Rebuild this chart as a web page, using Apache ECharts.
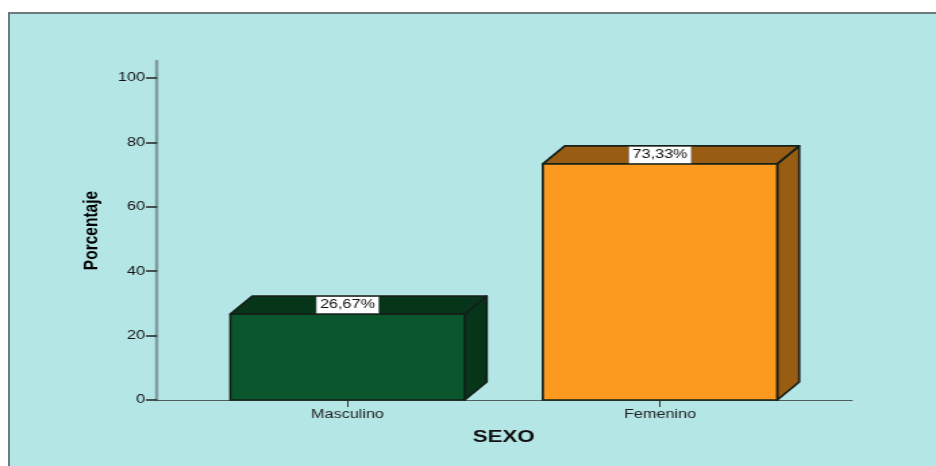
<!DOCTYPE html>
<html>
<head>
<meta charset="utf-8">
<script src="https://cdn.jsdelivr.net/npm/echarts@6/dist/echarts.min.js"></script>
<style>
  html, body { margin: 0; padding: 0; background: #fff; overflow: hidden; }
  /* The chart is laid out narrower and widened as a whole, which gives its wide lettering. */
  #chart { position: absolute; left: 0; top: 0; width: 693px; height: 466px;
           transform-origin: 0 0; transform: scaleX(calc(936 / 693)); }
  #frame { position: absolute; left: 8px; top: 12px; width: 928px; height: 454px;
           box-sizing: border-box; border-left: 2px solid #6e7b7b; border-top: 2px solid #6e7b7b; }
</style>
</head>
<body>
<div id="chart"></div>
<div id="frame"></div>
<script>
const categories = ['Masculino', 'Femenino'];
const percentages = [26.67, 73.33];
const frontColors = ['#0a572d', '#fc9a1f'];
const shadeColors = ['#063519', '#985c12'];
const yTicks = [0, 20, 40, 60, 80, 100];

const FONT = '"Liberation Sans", Arial, sans-serif';
const WIDEN = 936 / 693;
const wide = (x) => x / WIDEN;
const DEPTH_X = wide(22), DEPTH_Y = 18;

// Box with a front face, a top face and a side face, plus its percentage tag.
function renderBox(params, api) {
  const i = api.value(0);
  const v = api.value(1);
  const top = api.coord([i, v]);
  const base = api.coord([i, 0]);
  const w = api.size([1, 0])[0] * 0.75;
  const l = top[0] - w / 2, r = top[0] + w / 2;
  const edge = { stroke: '#14201a', lineWidth: 1.7, lineJoin: 'round' };
  const face = (points, fill) => ({
    type: 'polygon',
    shape: { points },
    style: Object.assign({ fill }, edge)
  });
  const text = v.toFixed(2).replace('.', ',') + '%';
  return {
    type: 'group',
    children: [
      face([[r, top[1]], [r + DEPTH_X, top[1] - DEPTH_Y], [r + DEPTH_X, base[1] - DEPTH_Y], [r, base[1]]], shadeColors[i]),
      face([[l, top[1]], [l + DEPTH_X, top[1] - DEPTH_Y], [r + DEPTH_X, top[1] - DEPTH_Y], [r, top[1]]], shadeColors[i]),
      face([[l, top[1]], [r, top[1]], [r, base[1]], [l, base[1]]], frontColors[i]),
      {
        type: 'text',
        x: top[0],
        y: top[1] - DEPTH_Y / 2,
        style: {
          text,
          font: '12px ' + FONT,
          fill: '#111',
          align: 'center',
          verticalAlign: 'middle',
          backgroundColor: '#fff',
          borderColor: '#777',
          borderWidth: 0.6,
          padding: [2, 2.5, 2, 2.5]
        }
      }
    ]
  };
}

const chart = echarts.init(document.getElementById('chart'), null, { renderer: 'canvas' });
chart.setOption({
  animation: false,
  backgroundColor: '#fff',
  graphic: [{
    type: 'rect',
    silent: true,
    z: -10,
    shape: { x: wide(9), y: 13, width: wide(927), height: 453 },
    style: { fill: '#b5e6e6' }
  }],
  grid: [
    { left: wide(157), width: wide(695), top: 61, height: 339 },
    { left: wide(191.25), width: wide(625), top: 61, height: 339 }
  ],
  xAxis: [
    {
      gridIndex: 0, type: 'value', min: 0, max: 1,
      axisLine: { show: true, lineStyle: { color: '#4d5f5f', width: 1.2 } },
      axisTick: { show: false }, axisLabel: { show: false }, splitLine: { show: false }
    },
    {
      gridIndex: 1, type: 'category', data: categories,
      name: 'SEXO', nameLocation: 'middle', nameGap: 29,
      nameTextStyle: { fontFamily: FONT, fontWeight: 'bold', fontSize: 16.5, color: '#111' },
      axisLine: { show: false },
      axisTick: { show: true, alignWithLabel: true, length: 7, lineStyle: { color: '#333', width: 1 } },
      axisLabel: { fontFamily: FONT, fontSize: 12, color: '#222', margin: 9 },
      splitLine: { show: false }
    }
  ],
  yAxis: [
    {
      gridIndex: 0, type: 'value', min: 0, max: 105.28,
      name: 'Porcentaje', nameLocation: 'middle', nameGap: wide(55),
      nameTextStyle: { fontFamily: FONT, fontWeight: 'bold', fontSize: 15.5, color: '#000' },
      axisLine: { show: true, lineStyle: { color: '#7f9c9c', width: 2.4 } },
      axisTick: { show: true, length: wide(11), customValues: yTicks, lineStyle: { color: '#222', width: 1.5 } },
      axisLabel: { fontFamily: FONT, fontSize: 12, color: '#111', margin: wide(12), padding: [2, 0, 0, 0], customValues: yTicks },
      splitLine: { show: false }
    },
    {
      gridIndex: 1, type: 'value', min: 0, max: 105.28, show: false, splitLine: { show: false }
    }
  ],
  series: [{
    type: 'custom',
    xAxisIndex: 1,
    yAxisIndex: 1,
    clip: false,
    renderItem: renderBox,
    encode: { x: 0, y: 1 },
    data: percentages.map((v, i) => [i, v])
  }]
});
</script>
</body>
</html>
